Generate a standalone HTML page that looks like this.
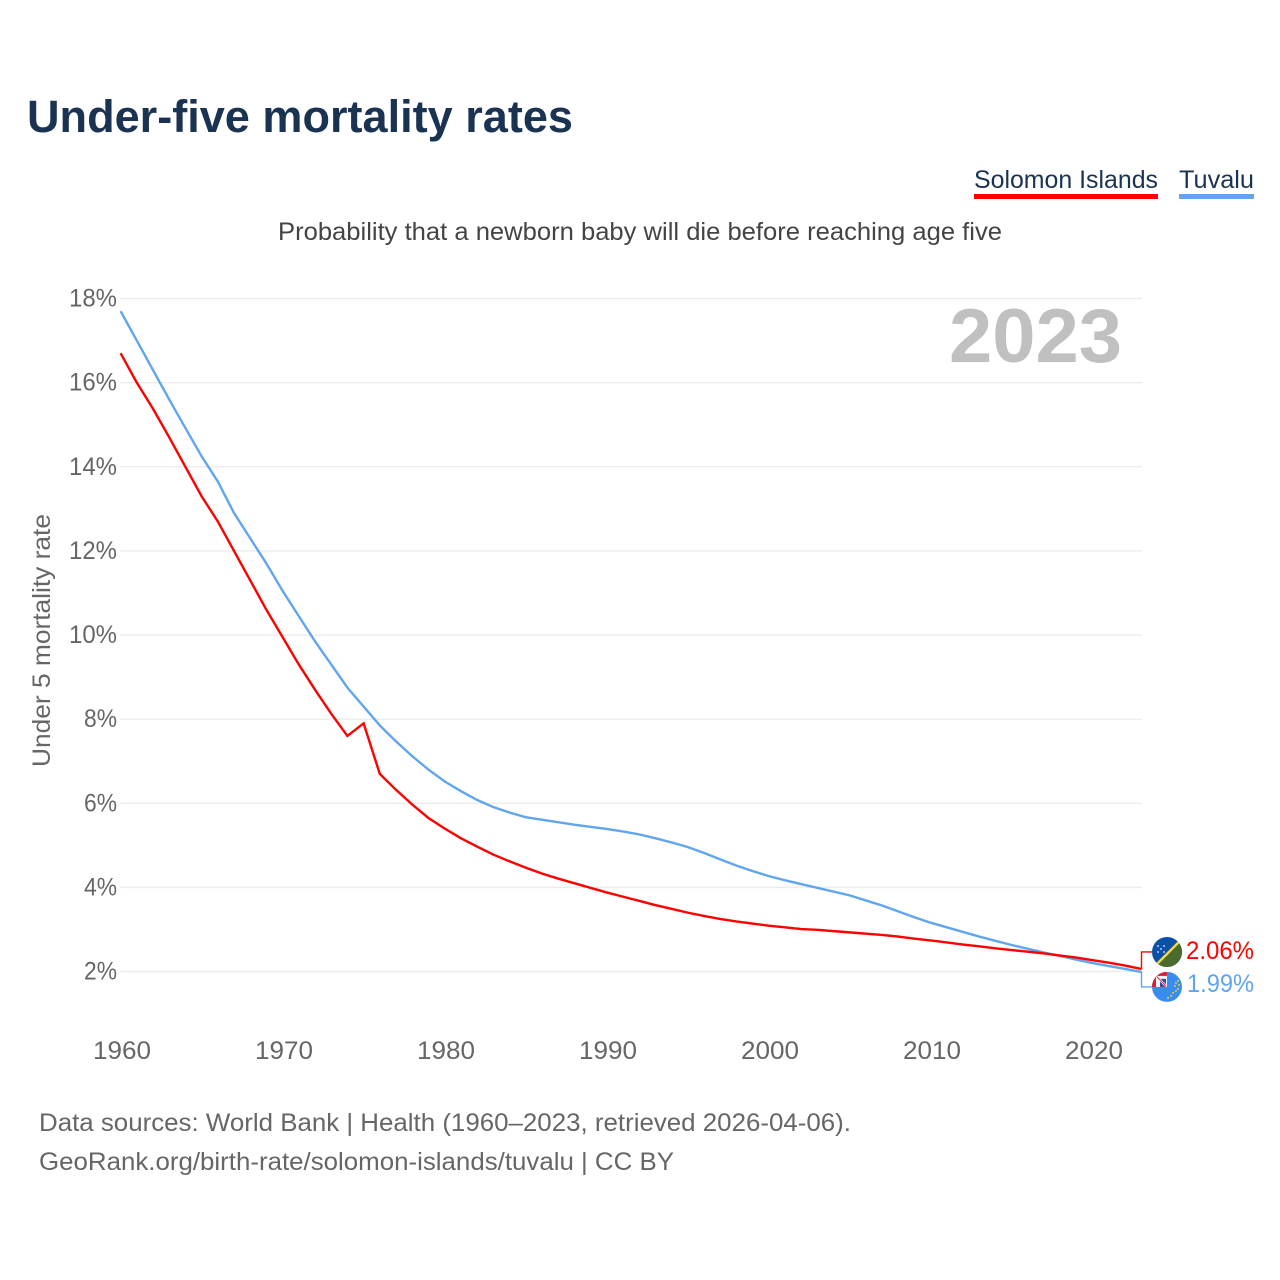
<!DOCTYPE html>
<html>
<head>
<meta charset="utf-8">
<title>Under-five mortality rates</title>
<style>
html,body{margin:0;padding:0;background:#fff;width:1280px;height:1280px;overflow:hidden}
svg{display:block;font-family:"Liberation Sans",sans-serif}
</style>
</head>
<body>
<svg id="chart" width="1280" height="1280" viewBox="0 0 1280 1280" xmlns="http://www.w3.org/2000/svg">
<defs>
<clipPath id="clip-solomon"><circle id="clip-solomon-circle" cx="1167" cy="952" r="15"></circle></clipPath>
<clipPath id="clip-tuvalu"><circle id="clip-tuvalu-circle" cx="1167" cy="987" r="15"></circle></clipPath>
</defs>
<text x="27" y="132" font-size="45" font-weight="700" fill="#1a3352" textLength="546" lengthAdjust="spacingAndGlyphs">Under-five mortality rates</text>
<g>
<text x="974" y="188" font-size="25" fill="#1a3352" textLength="184" lengthAdjust="spacingAndGlyphs">Solomon Islands</text>
<rect x="974" y="194" width="184" height="5" fill="#ff0000"></rect>
</g>
<g>
<text x="1179" y="188" font-size="25" fill="#1a3352" textLength="75" lengthAdjust="spacingAndGlyphs">Tuvalu</text>
<rect x="1179" y="194" width="75" height="5" fill="#60a5ee"></rect>
</g>
<text x="278" y="240" font-size="25" fill="#444" textLength="724" lengthAdjust="spacingAndGlyphs">Probability that a newborn baby will die before reaching age five</text>
<g id="grid"></g>
<g id="y-ticks"></g>
<g id="x-ticks"></g>
<text transform="translate(50,767) rotate(-90)" font-size="25" fill="#666" textLength="253" lengthAdjust="spacingAndGlyphs">Under 5 mortality rate</text>
<text x="949" y="362" font-size="76" font-weight="700" fill="#c0c0c0" textLength="173" lengthAdjust="spacingAndGlyphs">2023</text>
<g id="series"></g>
<g id="end-labels"></g>
<text x="39" y="1131" font-size="25" fill="#666" textLength="812" lengthAdjust="spacingAndGlyphs">Data sources: World Bank | Health (1960–2023, retrieved 2026-04-06).</text>
<text x="39" y="1170" font-size="25" fill="#666" textLength="635" lengthAdjust="spacingAndGlyphs">GeoRank.org/birth-rate/solomon-islands/tuvalu | CC BY</text>
</svg>
<script>
const startYear = 1960;
const xTickYears = [1960, 1970, 1980, 1990, 2000, 2010, 2020];
const yTickValues = [2, 4, 6, 8, 10, 12, 14, 16, 18];
const solomonValues = [16.7,16.0,15.38,14.7,14.0,13.3,12.7,12.0,11.3,10.6,9.95,9.3,8.7,8.13,7.6,7.9,6.7,6.32,5.97,5.65,5.4,5.17,4.97,4.78,4.62,4.47,4.33,4.21,4.1,3.99,3.88,3.78,3.68,3.58,3.49,3.4,3.32,3.25,3.19,3.14,3.09,3.05,3.01,2.99,2.96,2.93,2.9,2.87,2.83,2.78,2.74,2.69,2.64,2.6,2.55,2.51,2.47,2.43,2.38,2.33,2.27,2.21,2.14,2.06];
const tuvaluValues = [17.7,17.0,16.3,15.6,14.92,14.25,13.65,12.9,12.3,11.7,11.05,10.45,9.85,9.3,8.75,8.3,7.85,7.47,7.12,6.8,6.52,6.29,6.08,5.91,5.78,5.67,5.61,5.55,5.49,5.44,5.39,5.33,5.26,5.17,5.07,4.96,4.82,4.67,4.52,4.39,4.27,4.17,4.08,3.99,3.9,3.81,3.69,3.57,3.43,3.29,3.16,3.05,2.94,2.83,2.73,2.63,2.54,2.45,2.37,2.28,2.2,2.13,2.06,1.99];

const NS = 'http://www.w3.org/2000/svg';
function xScale(year) { return 120.6 + (year - 1960) * 16.2; }
function yScale(v) { return 971.5 - (v - 2) * 42.06; }
function make(tag, attrs, parent, text) {
  const el = document.createElementNS(NS, tag);
  for (const k in attrs) el.setAttribute(k, attrs[k]);
  if (text !== undefined) el.textContent = text;
  parent.appendChild(el);
  return el;
}
const gridG = document.getElementById('grid');
const yG = document.getElementById('y-ticks');
const xG = document.getElementById('x-ticks');
const seriesG = document.getElementById('series');
const endG = document.getElementById('end-labels');

yTickValues.forEach(function (v) {
  const line = make('line', {x1: 120.6, x2: 1142, y1: yScale(v), y2: yScale(v), stroke: '#ececec', 'stroke-width': 1.4}, gridG);
  
  
  const label = make('text', {x: 117, y: yScale(v) + 8, 'text-anchor': 'end', 'font-size': 25, fill: '#666', textLength: v >= 10 ? 48 : 33, lengthAdjust: 'spacingAndGlyphs'}, yG, v + '%');
  
  
});
xTickYears.forEach(function (yr) {
  const label = make('text', {x: xScale(yr) + 1.4, y: 1059, 'text-anchor': 'middle', 'font-size': 25, fill: '#666', textLength: 58, lengthAdjust: 'spacingAndGlyphs'}, xG, String(yr));
  
  
});
function pathFor(values) {
  return values.map(function (v, i) {
    return (i ? 'L' : 'M') + xScale(startYear + i).toFixed(2) + ' ' + yScale(v).toFixed(2);
  }).join(' ');
}
const tuvaluLine = make('path', {d: pathFor(tuvaluValues), fill: 'none', stroke: '#60a5ee', 'stroke-width': 2.4, 'stroke-linejoin': 'miter'}, seriesG);


const solomonLine = make('path', {d: pathFor(solomonValues), fill: 'none', stroke: '#ff0000', 'stroke-width': 2.4, 'stroke-linejoin': 'miter'}, seriesG);



const lastYear = startYear + solomonValues.length - 1;
const endX = xScale(lastYear);
const solEnd = yScale(solomonValues[solomonValues.length - 1]);
const tuvEnd = yScale(tuvaluValues[tuvaluValues.length - 1]);
const solY = solEnd - 17;
const tuvY = tuvEnd + 15;
const fx = 1167;

const solBracket = make('path', {d: 'M' + endX + ' ' + solEnd + ' L1141.5 ' + solEnd + ' L1141.5 ' + solY + ' L1152 ' + solY, fill: 'none', stroke: '#ff0000', 'stroke-width': 1.4}, endG);


const tuvBracket = make('path', {d: 'M' + endX + ' ' + tuvEnd + ' L1141.5 ' + tuvEnd + ' L1141.5 ' + tuvY + ' L1152 ' + tuvY, fill: 'none', stroke: '#60a5ee', 'stroke-width': 1.4}, endG);



document.getElementById('clip-solomon-circle').setAttribute('cy', solY);
document.getElementById('clip-tuvalu-circle').setAttribute('cy', tuvY);

/* Solomon Islands flag */
const solFlag = make('g', {'clip-path': 'url(#clip-solomon)'}, endG);


make('rect', {x: fx - 15, y: solY - 15, width: 30, height: 30, fill: '#0b51a8'}, solFlag);
make('path', {d: 'M' + (fx + 17) + ' ' + (solY - 17) + ' L' + (fx + 17) + ' ' + (solY + 17) + ' L' + (fx - 17) + ' ' + (solY + 17) + ' Z', fill: '#4a6b2c'}, solFlag);
make('line', {x1: fx + 16, y1: solY - 14, x2: fx - 14, y2: solY + 16, stroke: '#f2d64b', 'stroke-width': 2.4}, solFlag);
[[-9, -6], [-3, -6], [-6, -3], [-9, 0], [-3, 0]].forEach(function (p) {
  make('circle', {cx: fx + p[0], cy: solY + p[1], r: 0.9, fill: '#e8f0ff'}, solFlag);
});

/* Tuvalu flag */
const tuvFlag = make('g', {'clip-path': 'url(#clip-tuvalu)'}, endG);


make('rect', {x: fx - 15, y: tuvY - 15, width: 30, height: 30, fill: '#3a8df0'}, tuvFlag);
make('rect', {x: fx - 15, y: tuvY - 15, width: 15, height: 15, fill: '#d8203a'}, tuvFlag);
make('rect', {x: fx - 11, y: tuvY - 11, width: 11, height: 11, fill: '#f4f4f8'}, tuvFlag);
make('path', {d: 'M' + (fx - 7) + ' ' + tuvY + ' L' + (fx - 7) + ' ' + (tuvY - 8) + ' L' + (fx - 1) + ' ' + (tuvY - 8) + ' L' + (fx - 1) + ' ' + tuvY + ' Z', fill: '#2a4a9f'}, tuvFlag);
make('line', {x1: fx - 11, y1: tuvY - 11, x2: fx - 1, y2: tuvY - 1, stroke: '#f4f4f8', 'stroke-width': 2.4}, tuvFlag);
make('line', {x1: fx - 11, y1: tuvY - 11, x2: fx - 1, y2: tuvY - 1, stroke: '#d8203a', 'stroke-width': 1}, tuvFlag);
[[11, -6], [9, -4], [12, -2], [8, -1], [11, 2], [9, 4], [6, 6], [4, 9], [1, 11]].forEach(function (p) {
  make('circle', {cx: fx + p[0], cy: tuvY + p[1], r: 1, fill: '#e8c84a'}, tuvFlag);
});

const solValue = make('text', {x: 1186, y: solY + 7, 'font-size': 25, fill: '#ff0000', textLength: 68, lengthAdjust: 'spacingAndGlyphs'}, endG, solomonValues[solomonValues.length - 1].toFixed(2) + '%');


const tuvValue = make('text', {x: 1187, y: tuvY + 5, 'font-size': 25, fill: '#60a5ee', textLength: 67, lengthAdjust: 'spacingAndGlyphs'}, endG, tuvaluValues[tuvaluValues.length - 1].toFixed(2) + '%');


</script>
</body>
</html>
